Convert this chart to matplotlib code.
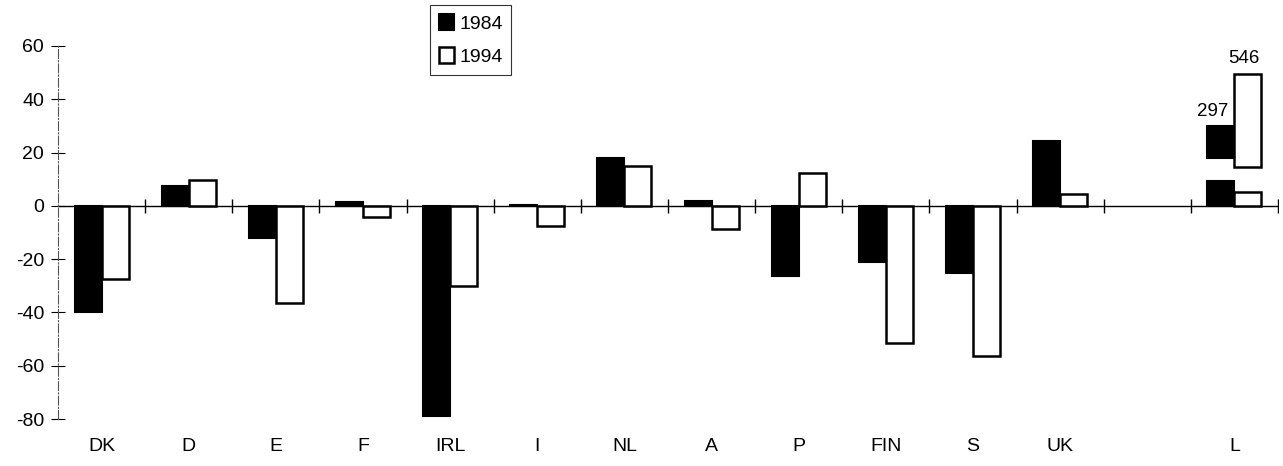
import numpy as np
import matplotlib.pyplot as plt

plt.rcParams['font.family'] = ['Liberation Sans', 'DejaVu Sans']
plt.rcParams['axes.unicode_minus'] = False

# countries (one empty slot between UK and L)
countries = ['DK', 'D', 'E', 'F', 'IRL', 'I', 'NL', 'A', 'P', 'FIN', 'S', 'UK', '', 'L']
v1984 = [-40, 7.6, -11.9, 1.6, -78.8, 0.4, 17.9, 2.0, -26.2, -20.9, -25.3, 24.4]
v1994 = [-27.4, 9.8, -36.4, -4.2, -30, -7.4, 15.1, -8.8, 12.3, -51.4, -56.3, 4.5]

# L is off scale: drawn as broken bars, true values as labels
l_labels = [297, 546]
l_lower = [9.5, 5.1]                  # segment below the break
l_upper = [(18.1, 29.8), (14.5, 49.5)]  # (start, end) of segment above the break

fig = plt.figure(figsize=(12.83, 4.66), dpi=100)
ax = fig.add_axes([58/1283, 1-419/466, (1278-58)/1283, (419-46)/466])

w = 0.31
x = np.arange(len(v1984))
ax.bar(x - w/2, v1984, w, color='black', edgecolor='black', linewidth=1.5, label='1984')
ax.bar(x + w/2, v1994, w, color='white', edgecolor='black', linewidth=1.8, label='1994')

xl = countries.index('L')
# broken bars for L
ax.bar(xl - w/2, l_lower[0], w, color='black', edgecolor='black', linewidth=1.5)
ax.bar(xl - w/2, l_upper[0][1] - l_upper[0][0], w, bottom=l_upper[0][0],
       color='black', edgecolor='black', linewidth=1.5)
ax.bar(xl + w/2, l_lower[1], w, color='white', edgecolor='black', linewidth=1.8)
ax.bar(xl + w/2, l_upper[1][1] - l_upper[1][0], w, bottom=l_upper[1][0],
       color='white', edgecolor='black', linewidth=1.8)
ax.text(xl - w/2 - 0.1, l_upper[0][1] + 2.5, str(l_labels[0]), ha='center', va='bottom', fontsize=13.5)
ax.text(xl + w/2 - 0.05, l_upper[1][1] + 2.5, str(l_labels[1]), ha='center', va='bottom', fontsize=13.5)

ax.set_xlim(-0.5, len(countries) - 0.5)
ax.set_ylim(-80, 60)

# zero line with category boundary ticks
ax.axhline(0, color='black', linewidth=1.0, zorder=0)
bounds = np.arange(1, len(countries) + 1) - 0.5
ax.plot(bounds, np.zeros(len(bounds)), linestyle='none', marker='|',
        markersize=10, color='black', markeredgewidth=1.0)

for s in ['top', 'right', 'bottom']:
    ax.spines[s].set_visible(False)
ax.spines['left'].set_color('#555555')
ax.spines['left'].set_linewidth(0.8)
ax.spines['left'].set_linestyle((0, (8, 2, 1, 2)))

ax.set_yticks(np.arange(-80, 61, 20))
ax.tick_params(axis='y', direction='inout', length=10, width=0.8, labelsize=14, pad=5)
ax.set_xticks(np.arange(len(countries)))
ax.set_xticklabels(countries, fontsize=14)
ax.tick_params(axis='x', length=0, pad=14)

leg = fig.legend(loc='upper left', bbox_to_anchor=(430/1283, 1-5/466),
                 fontsize=14, frameon=True, fancybox=False, edgecolor='black',
                 handlelength=0.8, handleheight=0.9, handletextpad=0.25,
                 borderpad=0.45, labelspacing=0.75, borderaxespad=0)
leg.get_frame().set_linewidth(0.8)

fig.savefig('out.png', dpi=100)
